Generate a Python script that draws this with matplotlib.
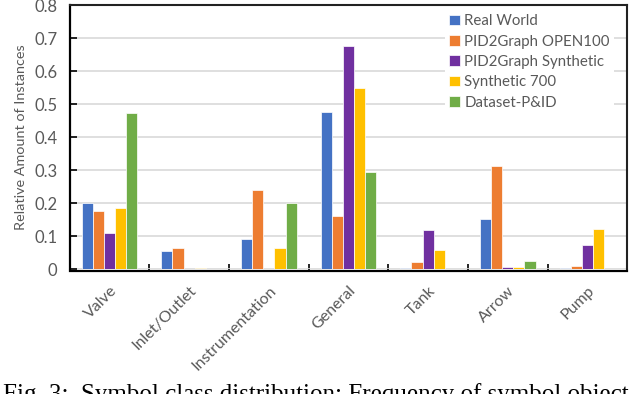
import numpy as np
import matplotlib.pyplot as plt

# -----------------------------------------------------------------------------
# Data

categories = ['Valve', 'Inlet/Outlet', 'Instrumentation', 'General',
              'Tank', 'Arrow', 'Pump']

real_world = [0.200, 0.056, 0.092, 0.478, 0.005, 0.152, 0.003]
open100 = [0.177, 0.065, 0.240, 0.161, 0.022, 0.312, 0.009]
pid2graph_synth = [0.111, 0.0, 0.0, 0.678, 0.120, 0.008, 0.074]
synthetic_700 = [0.186, 0.004, 0.064, 0.548, 0.060, 0.006, 0.122]
dataset_pid = [0.473, 0.0, 0.200, 0.294, 0.0, 0.025, 0.0]

series_names = ['Real World', 'PID2Graph OPEN100', 'PID2Graph Synthetic',
                'Synthetic 700', 'Dataset-P&ID']
colors = ['#4472C4', '#ED7D31', '#7030A0', '#FFC000', '#70AD47']

yticks = [0, 0.1, 0.2, 0.3, 0.4, 0.5, 0.6, 0.7, 0.8]
ytick_labels = ['0', '0.1', '0.2', '0.3', '0.4', '0.5', '0.6', '0.7', '0.8']

caption = 'Fig. 3:  Symbol class distribution: Frequency of symbol object'

# -----------------------------------------------------------------------------

plt.rcParams['font.family'] = ['Lato', 'DejaVu Sans']
text_color = '#595959'

fig = plt.figure(figsize=(6.4, 3.94), dpi=100)
ax = fig.add_axes([0.109, 0.3165, 0.871, 0.670])

# -- Spines first: moving a spine resets the tick setup of its axis
for side in ['left', 'bottom']:
    ax.spines[side].set_linewidth(1.6)
    ax.spines[side].set_color('black')
    ax.spines[side].set_zorder(4)
# keep tiny bars visible just above the x axis line
ax.spines['bottom'].set_position(('outward', 1.2))
for side in ['top', 'right']:
    ax.spines[side].set_linewidth(1.5)
    ax.spines[side].set_color('#222222')
    ax.spines[side].set_zorder(4)

series = [real_world, open100, pid2graph_synth, synthetic_700, dataset_pid]
x = np.arange(len(categories))
bar_w = 0.14
for i, (vals, name, col) in enumerate(zip(series, series_names, colors)):
    ax.bar(x + (i - 2) * bar_w, vals, width=bar_w, color=col,
           edgecolor='white', linewidth=0.5, label=name, zorder=2)

ax.set_xlim(-0.5, len(categories) - 0.5)
ax.set_ylim(0, 0.8)

# Axes, ticks and grid
ax.set_yticks(yticks)
ax.set_yticklabels(ytick_labels)
ax.yaxis.grid(True, color='#D9D9D9', linewidth=1.2)
ax.set_axisbelow(True)
ax.tick_params(axis='y', direction='in', length=5, width=1.2,
               labelsize=12, labelcolor=text_color, pad=9)

ax.set_xticks(x)
ax.set_xticklabels(categories, rotation=45, ha='right',
                   rotation_mode='anchor')
ax.set_xticks(np.arange(len(categories) + 1) - 0.5, minor=True)
ax.tick_params(axis='x', which='major', length=0, labelsize=11.5,
               labelcolor=text_color, pad=9)
ax.tick_params(axis='x', which='minor', direction='in', length=5, width=1.2)

ax.set_ylabel('Relative Amount of Instances', fontsize=10.4,
              color=text_color, labelpad=5)

# Legend with square markers in the upper right corner
leg = ax.legend(loc='upper right', fontsize=10.8, frameon=True,
                fancybox=False, edgecolor='none', framealpha=1.0,
                handlelength=0.7, handleheight=0.7, handletextpad=0.3,
                labelspacing=0.42, borderaxespad=0.3, borderpad=0.3,
                bbox_to_anchor=(0.985, 1.0))
for t in leg.get_texts():
    t.set_color(text_color)

# Caption below the chart, cut off by the figure edge as in the source
fig.text(0.005, -0.019, caption, fontsize=18, family='Liberation Serif',
         ha='left', va='baseline')

fig.savefig('out.png', dpi=100)
